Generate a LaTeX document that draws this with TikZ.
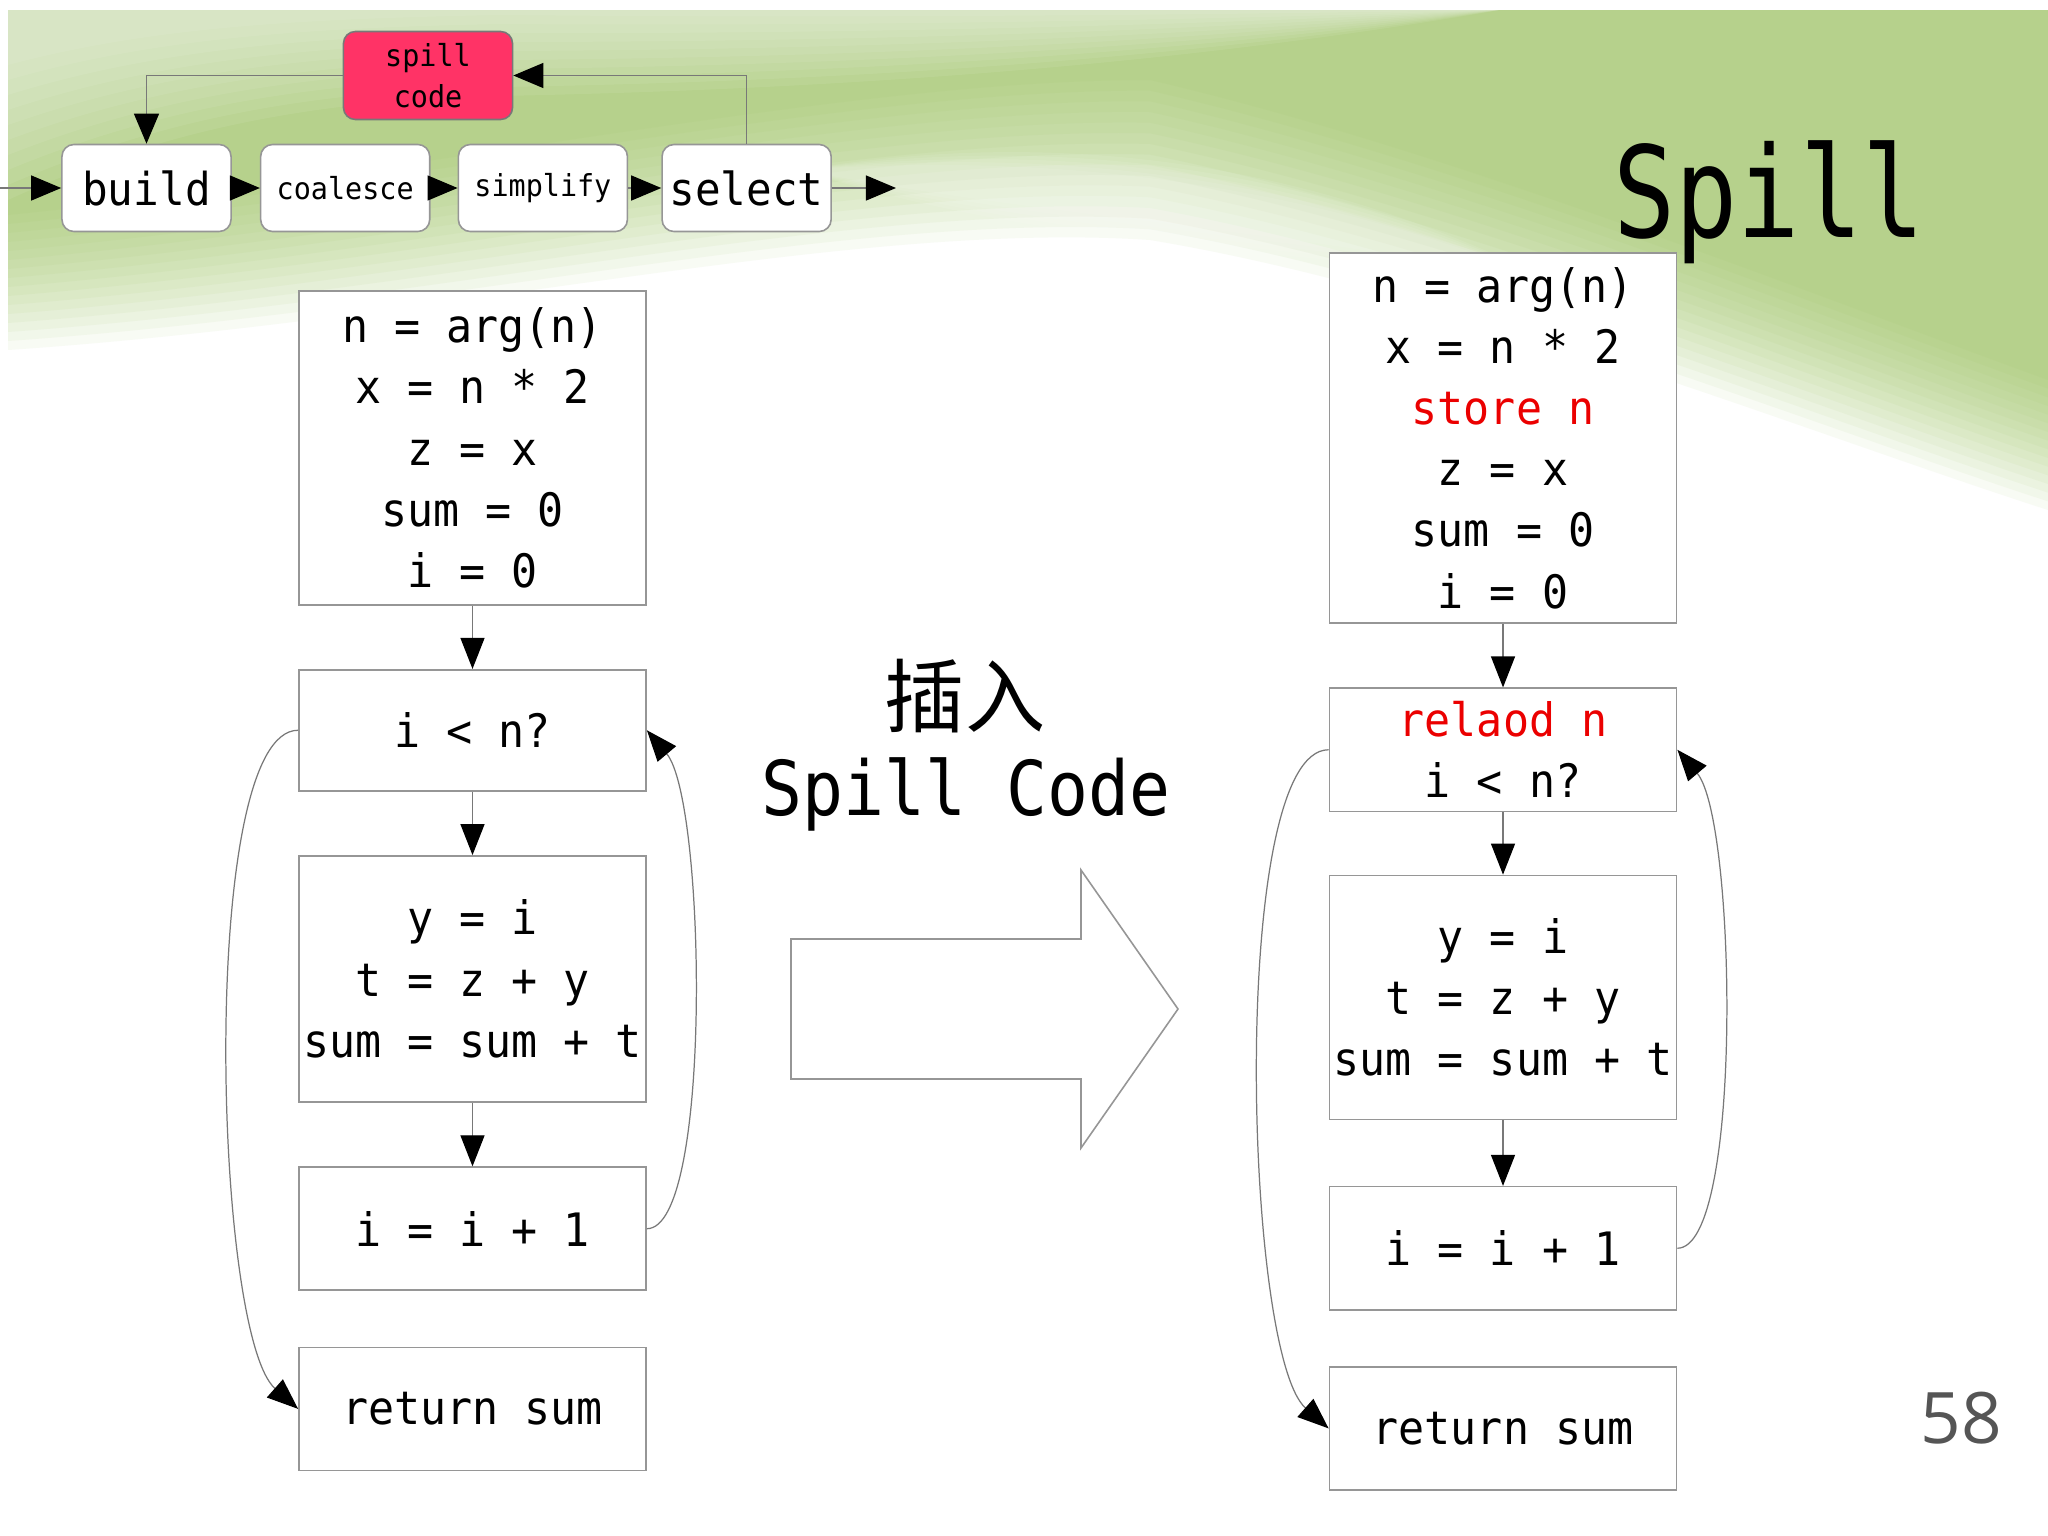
\documentclass[tikz,border=0pt]{standalone}
\usepackage{fontspec}
\usepackage{xcolor}
\usepackage{tikz}
\usetikzlibrary{arrows.meta,positioning}

\newfontfamily\codefont[FakeStretch=0.94]{DejaVu Sans Mono}
\newfontfamily\midfont[FakeStretch=0.9]{DejaVu Sans Mono}
\newfontfamily\headfont[FakeStretch=0.816]{DejaVu Sans Mono}
\newfontfamily\cjkfont{Noto Sans CJK SC}
\newfontfamily\numfont{Open Sans}

\definecolor{leaf}{RGB}{150,192,85}
\definecolor{boxgray}{RGB}{150,150,150}
\definecolor{linegray}{RGB}{120,120,120}
\definecolor{spillred}{RGB}{255,51,102}
\definecolor{codered}{RGB}{235,0,0}
\definecolor{pagegray}{RGB}{85,85,85}

\begin{document}
\begin{tikzpicture}[x=0.01cm, y=-0.01cm,
  blk/.style={draw=boxgray, line width=0.45pt, fill=white, minimum width=3.47cm,
    inner sep=0pt, align=center, font={\codefont\fontsize{13.1}{17.4}\selectfont}},
  stage/.style={draw=boxgray, line width=0.45pt, fill=white, rounded corners=0.12cm,
    minimum width=1.69cm, minimum height=0.87cm, inner sep=0pt,
    font={\codefont\fontsize{12.9}{16}\selectfont}},
  small/.style={font={\codefont\fontsize{8.6}{11.7}\selectfont}},
  arr/.style={draw=linegray, line width=0.35pt,
    -{Triangle[length=0.31cm, width=0.24cm, color=black]}},
  parr/.style={draw=linegray, line width=0.35pt,
    -{Triangle[length=0.3cm, width=0.25cm, color=black]}}
]
  \useasboundingbox (0,0) rectangle (2048,1536);
  \fill[white] (0,0) rectangle (2048,1536);

  % green backdrop, faded in steps
  \foreach \k in {0,...,15}
    \fill[leaf, opacity=0.062] (8,10) -- (2048,10) -- (2048,{510-\k*130/15})
      .. controls (1800,{430-\k*140/15}) and (1450,{290-\k*140/15}) .. (1150,{240-\k*160/15})
      .. controls (850,{220-\k*140/15}) and (450,{320-\k*150/15}) .. (8,{350-\k*135/15}) -- cycle;
  \foreach \k in {0,...,9}
    \fill[white, opacity=0.07] (8,10) -- (1500,10)
      .. controls (1150,{70-\k*6}) and (800,{90-\k*8}) .. (500,{96-\k*9})
      .. controls (300,{100-\k*9}) and (150,{135-\k*12}) .. (8,{200-\k*15}) -- cycle;
  \foreach \k in {0,...,4}
    \fill[white, opacity=0.08] (800,170) .. controls (1100,{120+\k*7}) and (1350,{180+\k*5}) .. (1560,285)
      .. controls (1300,{250-\k*5}) and (1050,{250-\k*8}) .. (800,170) -- cycle;

  % allocator pipeline
  \node[stage] (build) at (146.5,188) {build};
  \node[stage, small, right=0.28cm of build] (coal) {coalesce};
  \node[stage, small, right=0.27cm of coal] (simp) {simplify};
  \node[stage, right=0.33cm of simp] (sel) {select};
  \node[stage, small, fill=spillred, draw=linegray, align=center,
    minimum width=1.69cm, minimum height=0.88cm] (spill) at (428,75.5) {spill\\code};
  \coordinate (src) at (0,188);
  \coordinate (dst) at (896,188);

  \draw[parr] (src) -- (build);
  \draw[parr] (build) -- (coal);
  \draw[parr] (coal) -- (simp);
  \draw[parr] (simp) -- (sel);
  \draw[parr] (sel) -- (dst);
  \draw[parr] (sel.north) |- (spill.east);
  \draw[parr] (spill.west) -| (build.north);

  % title and page number
  \node[font={\headfont\fontsize{36}{40}\selectfont}, anchor=base] (ttl) at (1769,237) {Spill};
  \node[font={\numfont\fontsize{20.2}{24}\selectfont}, text=pagegray] (pg) at (1961,1418) {58};

  % before
  \node[blk, minimum height=3.14cm] (l1) at (472.5,448) {n = arg(n)\\x = n * 2\\z = x\\sum = 0\\i = 0};
  \node[blk, minimum height=1.21cm, below=0.63cm of l1] (l2) {i < n?};
  \node[blk, minimum height=2.46cm, below=0.635cm of l2] (l3) {y = i\\t = z + y\\sum = sum + t};
  \node[blk, minimum height=1.23cm, below=0.635cm of l3] (l4) {i = i + 1};
  \node[blk, minimum height=1.23cm, below=0.555cm of l4] (l5) {return sum};

  \draw[arr] (l1) -- (l2);
  \draw[arr] (l2) -- (l3);
  \draw[arr] (l3) -- (l4);
  \draw[arr] (l2.west) .. controls +(-100,0) and +(-85,-75) .. (l5.west);
  \draw[arr] (l4.east) .. controls +(66,0) and +(59,70) .. (l2.east);

  % middle
  \node[font={\cjkfont\fontsize{22.8}{26}\selectfont}, anchor=base] (ins) at (965,726) {插入};
  \node[font={\midfont\fontsize{21.5}{24}\selectfont}, anchor=base] (sc) at (966,815) {Spill Code};
  \draw[boxgray, line width=0.45pt, fill=white] (791,939) -- (1081,939) -- (1081,870)
    -- (1178,1009) -- (1081,1148) -- (1081,1079) -- (791,1079) -- cycle;

  % after
  \node[blk, minimum height=3.70cm] (r1) at (1503,438)
    {n = arg(n)\\x = n * 2\\\textcolor{codered}{store n}\\z = x\\sum = 0\\i = 0};
  \node[blk, minimum height=1.23cm, below=0.635cm of r1] (r2) {\textcolor{codered}{relaod n}\\i < n?};
  \node[blk, minimum height=2.44cm, below=0.625cm of r2] (r3) {y = i\\t = z + y\\sum = sum + t};
  \node[blk, minimum height=1.23cm, below=0.655cm of r3] (r4) {i = i + 1};
  \node[blk, minimum height=1.23cm, below=0.555cm of r4] (r5) {return sum};

  \draw[arr] (r1) -- (r2);
  \draw[arr] (r2) -- (r3);
  \draw[arr] (r3) -- (r4);
  \draw[arr] (r2.west) .. controls +(-100,0) and +(-85,-75) .. (r5.west);
  \draw[arr] (r4.east) .. controls +(66,0) and +(59,70) .. (r2.east);
\end{tikzpicture}
\end{document}
